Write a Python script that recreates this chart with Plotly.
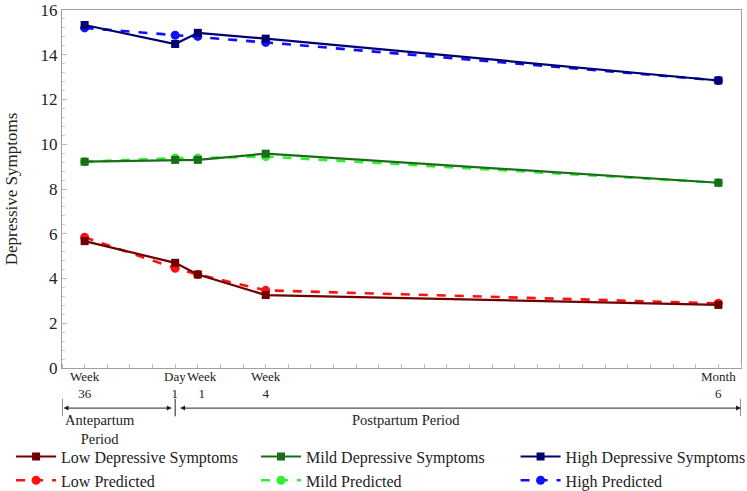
import plotly.graph_objects as go

# time axis: weeks from week 36 of pregnancy (birth at 5)
time_pos = [1, 5, 6, 9, 29]
tick_text = ["Week<br>36", "Day<br>1", "Week<br>1", "Week<br>4", "Month<br>6"]

low_obs = [5.67, 4.70, 4.18, 3.26, 2.82]
low_pred = [5.84, 4.46, 4.18, 3.47, 2.89]
mild_obs = [9.22, 9.30, 9.30, 9.58, 8.28]
mild_pred = [9.22, 9.38, 9.38, 9.45, 8.28]
high_obs = [15.33, 14.48, 14.98, 14.72, 12.85]
high_pred = [15.20, 14.87, 14.82, 14.55, 12.85]

font = "Liberation Serif, Times New Roman, serif"

fig = go.Figure()

series = [
    ("Low Depressive Symptoms", low_obs, "#700000", "solid", "square", "legend"),
    ("Mild Depressive Symptoms", mild_obs, "#1a6e1a", "solid", "square", "legend2"),
    ("High Depressive Symptoms", high_obs, "#000070", "solid", "square", "legend3"),
    ("Low Predicted", low_pred, "#ff1010", "dash", "circle", "legend"),
    ("Mild Predicted", mild_pred, "#33ee33", "dash", "circle", "legend2"),
    ("High Predicted", high_pred, "#1010ff", "dash", "circle", "legend3"),
]
# draw predicted underneath observed lines, keep legend order
order = [3, 4, 5, 0, 1, 2]
for i in order:
    name, vals, col, dash, sym, leg = series[i]
    fig.add_trace(go.Scatter(
        x=time_pos, y=vals, name=name, mode="lines+markers",
        line=dict(color=col, width=2.2 if dash == "solid" else 2.6, dash=dash),
        marker=dict(symbol=sym, size=8 if sym == "square" else 9, color=col),
        legend=leg, legendrank=i + 1,
    ))

leg_common = dict(orientation="v", y=-0.2, xanchor="left", yanchor="top",
                  font=dict(size=16), tracegroupgap=0, itemwidth=40,
                  bgcolor="rgba(0,0,0,0)")
fig.update_layout(
    width=747, height=491,
    margin=dict(l=62, r=6, t=10, b=123, autoexpand=False),
    plot_bgcolor="white", paper_bgcolor="white",
    font=dict(family=font, size=14, color="#222"),
    showlegend=True,
    legend=dict(x=-0.075, **leg_common),
    legend2=dict(x=0.2857, **leg_common),
    legend3=dict(x=0.668, **leg_common),
)

fig.update_xaxes(
    range=[0, 30], tickmode="array", tickvals=time_pos, showticklabels=False,
    ticks="", showgrid=False, zeroline=False, automargin=False,
    showline=True, linecolor="#a0a0a0", linewidth=1, mirror=True,
    minor=dict(dtick=1, ticks="inside", ticklen=4, tickcolor="#bbb", showgrid=False),
)
fig.update_yaxes(
    range=[0, 16], dtick=2, ticks="inside", ticklen=5, tickcolor="#bbb",
    showgrid=False, zeroline=False, automargin=False,
    showline=True, linecolor="#a0a0a0", linewidth=1, mirror=True,
    tickfont=dict(size=17),
    title=dict(text="Depressive Symptoms", font=dict(size=17), standoff=18),
    minor=dict(dtick=0.4, ticks="inside", ticklen=3, tickcolor="#ccc", showgrid=False),
)

# x tick labels placed on the axis scale (Week 1 nudged so it clears Day 1)
shifts = [0, 0, 4, 0, 0]
for xv, txt, sh in zip(time_pos, tick_text, shifts):
    fig.add_annotation(x=xv, y=0.002, xref="x", yref="paper", yanchor="top",
                       text=txt, showarrow=False, xshift=sh,
                       font=dict(size=13))

# period brackets below the axis
arrow_y = -0.112
for x0 in [0, 5, 30]:
    fig.add_shape(type="line", xref="x", yref="paper", x0=x0, x1=x0,
                  y0=-0.086, y1=-0.135, line=dict(color="#222", width=1))
for a, b in [(0, 4.85), (5.15, 30)]:
    fig.add_annotation(x=b, y=arrow_y, xref="x", yref="paper", ax=a, ay=0,
                       axref="x", text="", showarrow=True, arrowhead=2,
                       arrowside="end+start", arrowsize=1, arrowwidth=1,
                       arrowcolor="#222")
fig.add_annotation(x=1.7, y=-0.119, xref="x", yref="paper", yanchor="top",
                   text="Antepartum<br>Period", showarrow=False,
                   font=dict(size=14.5), borderpad=0)
fig.add_annotation(x=15.2, y=-0.119, xref="x", yref="paper", yanchor="top",
                   text="Postpartum Period", showarrow=False,
                   font=dict(size=14.5), borderpad=0)

# drop the default 8px page margin so the figure sits at the window's corner
fig.write_html("out.html", config={"displayModeBar": False},
               post_script="document.body.style.margin='0';")
